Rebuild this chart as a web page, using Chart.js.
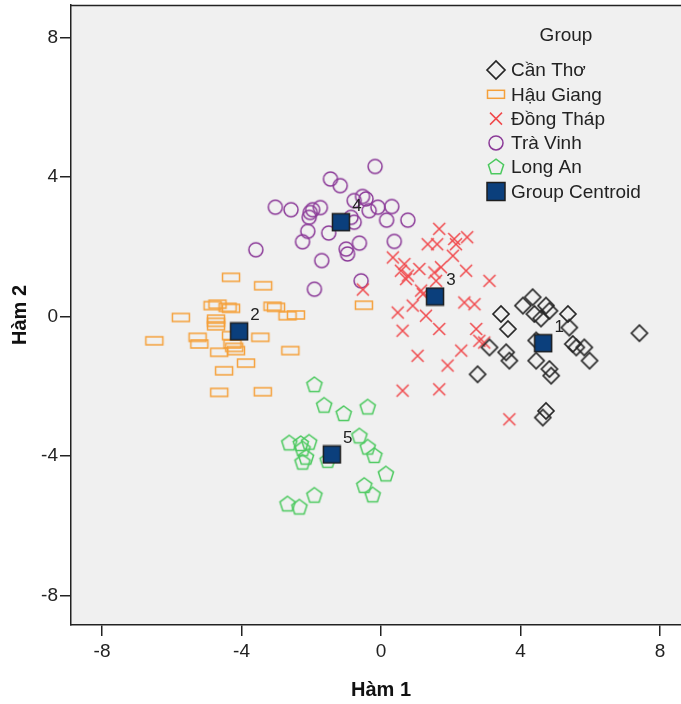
<!DOCTYPE html>
<html><head><meta charset="utf-8">
<script src="https://cdn.jsdelivr.net/npm/chart.js@4.4.1/dist/chart.umd.min.js"></script>
<style>html,body{margin:0;padding:0;background:#fff;overflow:hidden;width:681px;height:704px;}canvas{display:block;margin-top:-3px;}</style>
</head><body>
<canvas id="c" width="699" height="709"></canvas>
<script>
const groupNames = ['Cần Thơ', 'Hậu Giang', 'Đồng Tháp', 'Trà Vinh', 'Long An'];
const centroidName = 'Group Centroid';
const legendTitle = 'Group';
const xTitle = 'Hàm 1';
const yTitle = 'Hàm 2';
const xTicks = [-8, -4, 0, 4, 8];
const yTicks = [-8, -4, 0, 4, 8];

const canThoX = [4.35, 4.07, 4.73, 4.83, 4.40, 4.59, 3.44, 5.36, 3.64, 5.40, 7.41, 3.11, 3.59, 3.68, 4.45, 5.50, 5.60, 5.83, 5.98, 4.45, 4.83, 4.88, 2.77, 4.73, 4.64];
const canThoY = [0.55, 0.31, 0.31, 0.16, 0.07, -0.06, 0.07, 0.07, -0.36, -0.32, -0.48, -0.89, -1.03, -1.27, -0.69, -0.79, -0.89, -0.89, -1.27, -1.27, -1.51, -1.70, -1.66, -2.71, -2.90];

const hauGiangX = [-4.30, -3.38, -5.74, -4.83, -4.69, -4.40, -4.30, -4.73, -4.73, -4.73, -3.11, -3.01, -2.68, -2.44, -6.50, -5.26, -5.21, -4.30, -4.26, -4.21, -4.16, -4.64, -3.46, -2.60, -3.87, -4.50, -4.64, -3.39, -0.49];
const hauGiangY = [1.12, 0.88, -0.03, 0.31, 0.35, 0.26, 0.23, -0.08, -0.17, -0.27, 0.29, 0.26, 0.02, 0.04, -0.70, -0.60, -0.79, -0.55, -0.79, -0.89, -0.98, -1.03, -0.60, -0.98, -1.34, -1.56, -2.18, -2.16, 0.32];

const dongThapX = [1.67, 1.34, 1.61, 2.10, 2.15, 2.47, 2.06, 0.34, 0.67, 0.57, 0.77, 0.72, 1.10, 1.53, 1.72, 1.58, 2.44, 3.11, 1.15, 1.20, 0.91, 1.29, 0.48, 0.62, 1.67, 2.39, 2.68, 2.73, 2.82, 2.96, 2.30, 1.05, 1.91, 0.62, 1.67, 3.68, -0.52];
const dongThapY = [2.51, 2.07, 2.07, 2.22, 2.07, 2.27, 1.74, 1.69, 1.50, 1.31, 1.17, 1.07, 1.36, 1.26, 1.41, 1.02, 1.31, 1.02, 0.74, 0.64, 0.31, 0.02, 0.11, -0.41, -0.36, 0.40, 0.35, -0.36, -0.70, -0.75, -0.98, -1.13, -1.41, -2.13, -2.09, -2.95, 0.77];

const traVinhX = [-0.17, -1.45, -1.17, -3.03, -2.58, -2.03, -1.96, -1.74, -2.06, -0.77, -0.53, -0.43, -0.34, -0.09, 0.31, 0.16, 0.77, -0.77, -0.86, -2.10, -2.25, -1.50, -0.62, -1.00, -0.96, 0.38, -3.59, -1.70, -0.57, -1.91];
const traVinhY = [4.30, 3.94, 3.75, 3.13, 3.06, 2.98, 3.06, 3.12, 2.84, 3.32, 3.44, 3.37, 3.03, 3.13, 3.15, 2.76, 2.76, 2.70, 2.84, 2.44, 2.14, 2.39, 2.10, 1.93, 1.79, 2.15, 1.91, 1.60, 1.02, 0.78];

const longAnX = [-1.91, -1.63, -1.07, -0.38, -2.63, -2.30, -2.06, -2.25, -2.15, -2.25, -1.53, -0.62, -0.38, -0.19, 0.14, -0.48, -0.24, -1.91, -2.68, -2.34];
const longAnY = [-1.97, -2.56, -2.80, -2.61, -3.64, -3.66, -3.62, -3.81, -4.05, -4.19, -4.14, -3.44, -3.76, -4.00, -4.53, -4.86, -5.13, -5.14, -5.39, -5.48];

const centroidX = [4.65, -4.07, 1.55, -1.15, -1.41];
const centroidY = [-0.77, -0.43, 0.57, 2.70, -3.96];
const centroidLabels = ['1', '2', '3', '4', '5'];

const FONT = "'Liberation Sans', Arial, sans-serif";
Chart.defaults.font.family = FONT;

const COLORS = { ct: '#262626', hg: '#f5a03a', dt: '#f0494c', tv: '#8b3a98', la: '#4cc95f', cenFill: '#0b3f7c', cenStroke: '#1e1e1e' };
function drawDiamond(g, x, y, r) { g.beginPath(); g.moveTo(x - r, y); g.lineTo(x, y - r); g.lineTo(x + r, y); g.lineTo(x, y + r); g.closePath(); g.strokeStyle = COLORS.ct; g.lineWidth = 1.7; g.stroke(); }
function drawRectH(g, x, y, w, h) { g.strokeStyle = COLORS.hg; g.lineWidth = 1.5; g.strokeRect(x - w / 2, y - h / 2, w, h); }
function drawX(g, x, y, s) { g.beginPath(); g.moveTo(x - s, y - s); g.lineTo(x + s, y + s); g.moveTo(x + s, y - s); g.lineTo(x - s, y + s); g.strokeStyle = COLORS.dt; g.lineWidth = 1.5; g.stroke(); }
function drawCircle(g, x, y, r) { g.beginPath(); g.arc(x, y, r, 0, Math.PI * 2); g.strokeStyle = COLORS.tv; g.lineWidth = 1.5; g.stroke(); }
function drawPent(g, x, y, r) { g.beginPath(); for (let k = 0; k < 5; k++) { const a = -Math.PI / 2 + k * 2 * Math.PI / 5; const px = x + r * Math.cos(a), py = y + r * Math.sin(a); if (k === 0) g.moveTo(px, py); else g.lineTo(px, py); } g.closePath(); g.strokeStyle = COLORS.la; g.lineWidth = 1.5; g.stroke(); }
function drawCen(g, x, y, s) { g.fillStyle = COLORS.cenFill; g.fillRect(x - s / 2, y - s / 2, s, s); g.strokeStyle = COLORS.cenStroke; g.lineWidth = 1.5; g.strokeRect(x - s / 2, y - s / 2, s, s); }

function makeCanvas(w, h, fn) { const c = document.createElement('canvas'); c.width = w; c.height = h; fn(c.getContext('2d'), w / 2, h / 2); return c; }
const imgDiamond = makeCanvas(20, 20, (g, x, y) => drawDiamond(g, x, y, 8));
const imgRect = makeCanvas(22, 12, (g, x, y) => drawRectH(g, x, y, 17, 8));
const imgX = makeCanvas(16, 16, (g, x, y) => drawX(g, x, y, 6));
const imgCircle = makeCanvas(18, 18, (g, x, y) => drawCircle(g, x, y, 7));
const imgPent = makeCanvas(20, 20, (g, x, y) => drawPent(g, x, y, 8));
const imgCen = makeCanvas(20, 20, (g, x, y) => drawCen(g, x, y, 17));

function pts(xs, ys) { return xs.map((v, i) => ({ x: v, y: ys[i] })); }
function ds(label, xs, ys, img, order) {
  return { label, data: pts(xs, ys), pointStyle: img, pointRadius: 7, pointHoverRadius: 7, order, showLine: false };
}

// canvas is shifted 3px up on the page, so legend positions are given +3
const OFF = 3;
const bgPlugin = {
  id: 'bg',
  beforeDraw(chart) {
    const { ctx, chartArea: a } = chart;
    ctx.save(); ctx.fillStyle = '#f0f0f0'; ctx.fillRect(a.left, a.top, a.right - a.left, a.bottom - a.top); ctx.restore();
  },
  afterDraw(chart) {
    const { ctx, chartArea: a } = chart;
    ctx.save(); ctx.strokeStyle = '#222'; ctx.lineWidth = 1.5;
    ctx.beginPath(); ctx.moveTo(a.left, a.top + 0.5); ctx.lineTo(a.right, a.top + 0.5); ctx.stroke();
    ctx.beginPath(); ctx.moveTo(a.right - 0.5, a.top); ctx.lineTo(a.right - 0.5, a.bottom); ctx.stroke();
    ctx.restore();
    ctx.save();
    ctx.fillStyle = '#222'; ctx.textBaseline = 'middle';
    ctx.font = '19px ' + FONT; ctx.textAlign = 'center';
    ctx.fillText(legendTitle, 566, 36 + OFF);
    ctx.textAlign = 'left';
    const rows = [70, 94.3, 118.6, 142.9, 167.2, 191.5].map(v => v + OFF);
    const mx = 496, tx = 511;
    drawDiamond(ctx, mx, rows[0], 9);
    drawRectH(ctx, mx, rows[1], 17, 8);
    drawX(ctx, mx, rows[2], 6);
    drawCircle(ctx, mx, rows[3], 7);
    drawPent(ctx, mx, rows[4], 8);
    drawCen(ctx, mx, rows[5], 18);
    ctx.fillStyle = '#222';
    const names = groupNames.concat([centroidName]);
    names.forEach((n, i) => ctx.fillText(n, tx, rows[i] + 1));
    ctx.restore();
  },
  afterDatasetsDraw(chart) {
    const { ctx } = chart; const xs = chart.scales.x, ys = chart.scales.y;
    ctx.save(); ctx.fillStyle = '#222'; ctx.font = '17px ' + FONT; ctx.textAlign = 'center'; ctx.textBaseline = 'middle';
    centroidLabels.forEach((t, i) => {
      ctx.fillText(t, xs.getPixelForValue(centroidX[i]) + 16, ys.getPixelForValue(centroidY[i]) - 16);
    });
    ctx.restore();
  }
};

const axisCommon = {
  type: 'linear',
  grid: { display: true, drawOnChartArea: false, drawTicks: true, tickLength: 11, color: '#222', lineWidth: 1.5 },
  border: { display: true, color: '#222', width: 1.5 },
};
function zeroPad(s) { s.paddingTop = 0; s.paddingBottom = 0; s.paddingLeft = 0; s.paddingRight = 0; }

new Chart(document.getElementById('c'), {
  type: 'scatter',
  data: {
    datasets: [
      ds(centroidName, centroidX, centroidY, imgCen, 0),
      ds(groupNames[0], canThoX, canThoY, imgDiamond, 1),
      ds(groupNames[1], hauGiangX, hauGiangY, imgRect, 2),
      ds(groupNames[2], dongThapX, dongThapY, imgX, 3),
      ds(groupNames[3], traVinhX, traVinhY, imgCircle, 4),
      ds(groupNames[4], longAnX, longAnY, imgPent, 5),
    ]
  },
  options: {
    responsive: false, animation: false, devicePixelRatio: 1,
    layout: { padding: { top: 1, right: 0, bottom: 0, left: 0 } },
    plugins: { legend: { display: false }, tooltip: { enabled: false } },
    events: [],
    scales: {
      x: Object.assign({}, axisCommon, {
        position: 'bottom', min: -8.89, max: 8.89,
        afterBuildTicks: s => { s.ticks = xTicks.map(v => ({ value: v })); },
        afterFit: s => { s.height = 81; zeroPad(s); },
        ticks: { font: { size: 19 }, color: '#222', padding: 4, maxRotation: 0 },
        title: { display: true, text: xTitle, font: { size: 20, weight: 'bold' }, color: '#111', padding: { top: 0, bottom: 4 } }
      }),
      y: Object.assign({}, axisCommon, {
        position: 'left', min: -8.85, max: 8.93,
        afterBuildTicks: s => { s.ticks = yTicks.map(v => ({ value: v })); },
        afterFit: s => { s.width = 71; zeroPad(s); },
        ticks: { font: { size: 19 }, color: '#222', padding: 2 },
        title: { display: true, text: yTitle, font: { size: 20, weight: 'bold' }, color: '#111', padding: { top: 8, bottom: 0 } }
      })
    }
  },
  plugins: [bgPlugin]
});
</script>
</body></html>
